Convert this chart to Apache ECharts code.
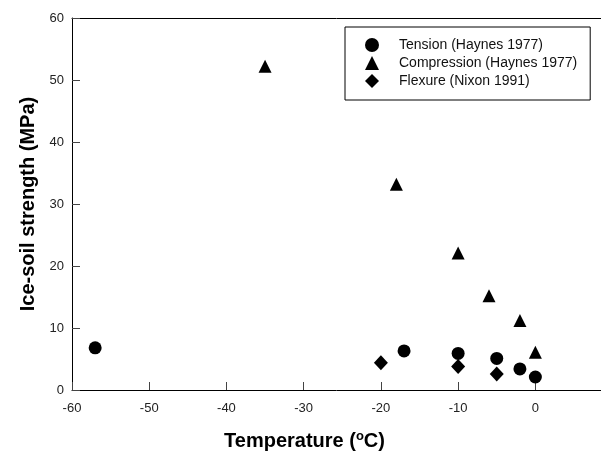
<!DOCTYPE html>
<html>
<head>
<meta charset="utf-8">
<script src="https://cdn.jsdelivr.net/npm/echarts@6/dist/echarts.min.js"></script>
<style>
  html, body { margin: 0; padding: 0; background: #fff; }
  #chart { width: 601px; height: 453px; }
</style>
</head>
<body>
<div id="chart"></div>
<script>
var tension = [[-57, 6.8], [-17, 6.3], [-10, 5.9], [-5, 5.1], [-2, 3.4], [0, 2.1]];
var compression = [[-35, 52.2], [-18, 33.2], [-10, 22.1], [-6, 15.2], [-2, 11.2], [0, 6.1]];
var flexure = [[-20, 4.4], [-10, 3.8], [-5, 2.6]];
var seriesNames = ['Tension (Haynes 1977)', 'Compression (Haynes 1977)', 'Flexure (Nixon 1991)'];
var xTicks = [-60, -50, -40, -30, -20, -10, 0];

var font = '"Liberation Sans", Arial, Helvetica, sans-serif';

var chart = echarts.init(document.getElementById('chart'));

var option = {
    animation: false,
    backgroundColor: '#fff',
    textStyle: { fontFamily: font },
    grid: {
        left: 72,
        top: 18,
        right: 0,
        bottom: 63,
        outerBoundsMode: 'none'
    },
    legend: {
        orient: 'vertical',
        left: 345,
        top: 27,
        padding: [11, 13, 12, 20],
        itemWidth: 14,
        itemHeight: 14,
        itemGap: 4,
        borderColor: '#000',
        borderWidth: 1,
        textStyle: { fontFamily: font, fontSize: 14, lineHeight: 14, color: '#111', padding: [0, 0, 0, 15] },
        data: [
            { name: seriesNames[0], icon: 'circle' },
            { name: seriesNames[1], icon: 'triangle' },
            { name: seriesNames[2], icon: 'diamond' }
        ]
    },
    xAxis: [{
        type: 'value',
        min: -60,
        max: 8.5,
        name: 'Temperature ({sup|o}C)',
        nameLocation: 'middle',
        nameGap: 40,
        nameTextStyle: {
            fontFamily: font, fontSize: 20, fontWeight: 'bold', color: '#000',
            padding: [0, 64, 0, 0],
            rich: { sup: { fontFamily: font, fontSize: 13, fontWeight: 'bold', color: '#000', verticalAlign: 'top', padding: [0, 0, 9, 0] } }
        },
        splitLine: { show: false },
        axisLine: { onZero: false, lineStyle: { color: '#000', width: 1 } },
        axisTick: { inside: true, length: 8, customValues: xTicks, lineStyle: { color: '#444' } },
        axisLabel: { fontSize: 13, color: '#222', margin: 12, customValues: xTicks }
    }, {
        type: 'value',
        position: 'top',
        min: -60,
        max: 8.5,
        axisLine: { show: true, onZero: false, lineStyle: { color: '#000', width: 1 } },
        axisTick: { show: false },
        axisLabel: { show: false },
        splitLine: { show: false }
    }],
    yAxis: {
        type: 'value',
        min: 0,
        max: 60,
        interval: 10,
        name: 'Ice-soil strength (MPa)',
        nameLocation: 'middle',
        nameGap: 33,
        nameTextStyle: { fontFamily: font, fontSize: 20, fontWeight: 'bold', color: '#000' },
        splitLine: { show: false },
        axisLine: { onZero: false, lineStyle: { color: '#000', width: 1 } },
        axisTick: { inside: true, length: 8, lineStyle: { color: '#444' } },
        axisLabel: { fontSize: 13, color: '#222', margin: 8 }
    },
    series: [
        { name: seriesNames[0], type: 'scatter', symbol: 'circle', symbolSize: 13, data: tension, itemStyle: { color: '#000', opacity: 1 } },
        { name: seriesNames[1], type: 'scatter', symbol: 'triangle', symbolSize: 13, data: compression, itemStyle: { color: '#000', opacity: 1 } },
        { name: seriesNames[2], type: 'scatter', symbol: 'diamond', symbolSize: [14, 15], data: flexure, itemStyle: { color: '#000', opacity: 1 } }
    ]
};

chart.setOption(option);
</script>
</body>
</html>
